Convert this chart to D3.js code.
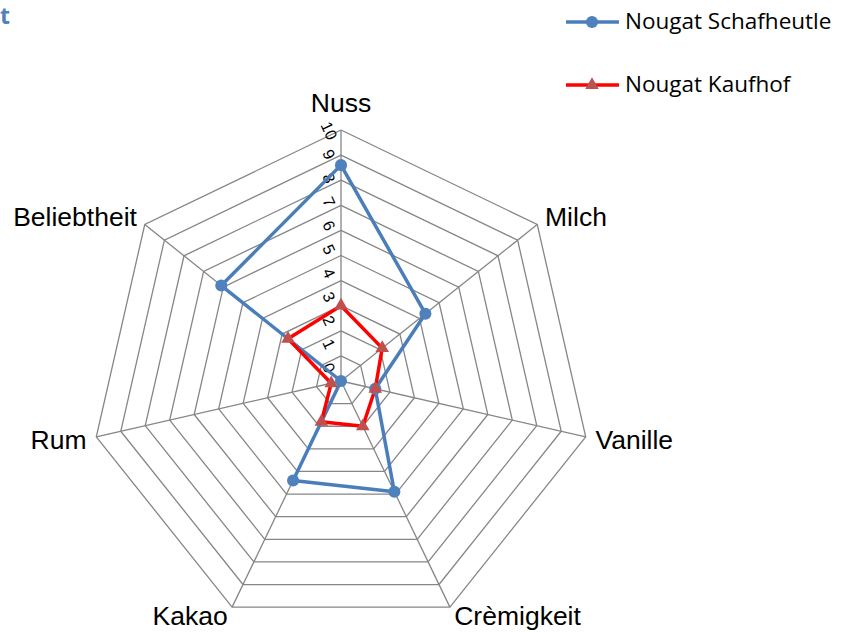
<!DOCTYPE html>
<html>
<head>
<meta charset="utf-8">
<script src="https://cdn.jsdelivr.net/npm/d3@7"></script>
<style>
  html, body { margin: 0; padding: 0; background: #fff; }
  svg { display: block; }
</style>
</head>
<body>
<svg id="chart" width="844" height="632"></svg>
<script>
const categories = ["Nuss", "Milch", "Vanille", "Crèmigkeit", "Kakao", "Rum", "Beliebtheit"];
const schafheutle = [8.6, 4.3, 1.4, 4.9, 4.4, 0, 6.1];
const kaufhof = [3.0, 2.1, 1.4, 2.0, 1.8, 0.4, 2.7];
const tickValues = [0, 1, 2, 3, 4, 5, 6, 7, 8, 9, 10];
const seriesNames = ["Nougat Schafheutle", "Nougat Kaufhof"];
const titleText = "t";

const svg = d3.select("#chart");
const cx = 341, cy = 381;
const r = d3.scaleLinear().domain([0, 10]).range([0, 251]);
const angle = d3.scaleLinear().domain([0, categories.length]).range([0, 2 * Math.PI]);
const pt = (i, v) => [cx + r(v) * Math.sin(angle(i)), cy - r(v) * Math.cos(angle(i))];

const gridColor = "#868686";
const g = svg.append("g");

// rings
const ringLine = d3.line();
tickValues.filter(t => t > 0).forEach(t => {
  const pts = categories.map((c, i) => pt(i, t));
  pts.push(pts[0]);
  g.append("path").attr("d", ringLine(pts))
    .attr("fill", "none").attr("stroke", gridColor).attr("stroke-width", 1.3);
});
// spokes
categories.forEach((c, i) => {
  const [x, y] = pt(i, 10);
  g.append("line").attr("x1", cx).attr("y1", cy).attr("x2", x).attr("y2", y)
    .attr("stroke", gridColor).attr("stroke-width", 1.3);
});

// tick labels (rotated)
const labelPos = d3.scaleLinear().domain([0, 10]).range([cy - 13, cy - 13 - r(10) * 0.945]);
tickValues.forEach(t => {
  g.append("text")
    .attr("transform", `translate(${cx - 12},${labelPos(t)}) rotate(65)`)
    .attr("text-anchor", "middle").attr("dy", "0.35em")
    .attr("font-family", "Liberation Sans, Arial, sans-serif")
    .attr("font-size", 16).attr("fill", "#000")
    .text(t);
});

// category labels
categories.forEach((c, i) => {
  const [x, y] = pt(i, 10);
  const s = Math.sin(angle(i)), co = Math.cos(angle(i));
  let anchor = Math.abs(s) < 0.1 ? "middle" : (s > 0 ? "start" : "end");
  let by;
  if (co > 0.9) by = -18; else if (co < -0.8) by = 18; else by = 9 - 12 * co;
  g.append("text")
    .attr("x", x + s * 10).attr("y", y + by)
    .attr("text-anchor", anchor)
    .attr("font-family", "Liberation Sans, Arial, sans-serif")
    .attr("font-size", 26.5).attr("fill", "#000")
    .text(c);
});

const line = d3.line();
const seriesDefs = [
  { name: seriesNames[0], values: schafheutle, stroke: "#4A7EBB", marker: "#4F81BD", symbol: d3.symbolCircle, size: 115 },
  { name: seriesNames[1], values: kaufhof, stroke: "#FF0000", marker: "#C0504D", symbol: d3.symbolTriangle, size: 80 }
];

seriesDefs.forEach(sd => {
  const pts = sd.values.map((v, i) => pt(i, v));
  pts.push(pts[0]);
  g.append("path").attr("d", line(pts)).attr("fill", "none")
    .attr("stroke", sd.stroke).attr("stroke-width", 3.5).attr("stroke-linejoin", "round");
});
seriesDefs.forEach(sd => {
  sd.values.forEach((v, i) => {
    const [x, y] = pt(i, v);
    g.append("path").attr("d", d3.symbol(sd.symbol, sd.size)())
      .attr("transform", `translate(${x},${y})`).attr("fill", sd.marker);
  });
});

// legend
const legendY = d3.scalePoint().domain(seriesNames).range([22, 85]);
seriesDefs.forEach(sd => {
  const y = legendY(sd.name);
  svg.append("line").attr("x1", 566).attr("x2", 619).attr("y1", y).attr("y2", y)
    .attr("stroke", sd.stroke).attr("stroke-width", 3.5);
  svg.append("path").attr("d", d3.symbol(sd.symbol, sd.size)())
    .attr("transform", `translate(592,${y})`).attr("fill", sd.marker);
  svg.append("text").attr("x", 625).attr("y", y + 7)
    .attr("font-family", "Open Sans, sans-serif").attr("font-size", 22.5).attr("fill", "#000")
    .text(sd.name);
});

// title fragment
svg.append("text").attr("x", 0).attr("y", 24)
  .attr("font-family", "Open Sans, sans-serif").attr("font-weight", "bold")
  .attr("font-size", 23).attr("fill", "#4F81BD").text(titleText);
</script>
</body>
</html>
